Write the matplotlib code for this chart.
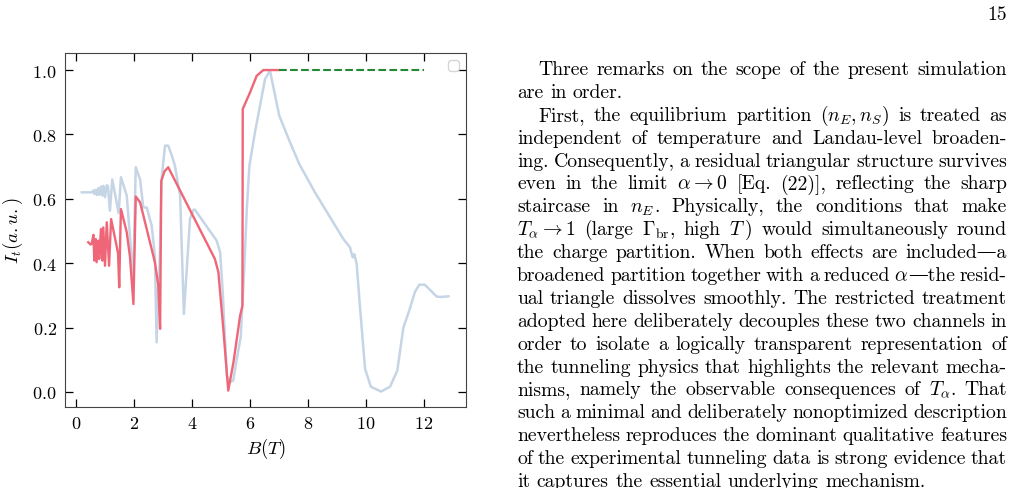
import re
import matplotlib.pyplot as plt

plt.rcParams['font.family'] = ['cmr10', 'DejaVu Serif']
plt.rcParams['mathtext.fontset'] = 'cm'
plt.rcParams['axes.formatter.use_mathtext'] = True
plt.rcParams['axes.unicode_minus'] = False

# measured tunneling current (light blue)
blue_b = [0.20, 0.55, 0.60, 0.63, 0.68, 0.72, 0.77, 0.80, 0.86, 0.91, 0.94, 1.00, 1.06, 1.10,
          1.17, 1.25, 1.40, 1.47, 1.55, 1.75, 1.92, 1.97, 2.06, 2.21, 2.32, 2.44, 2.61, 2.72,
          2.78, 2.84, 2.87, 2.95, 3.07, 3.18, 3.30, 3.41, 3.59, 3.72, 3.82, 3.93, 4.05, 4.10,
          4.85, 4.97, 5.06, 5.20, 5.31, 5.42, 5.54, 5.68, 5.80, 5.89, 5.98, 6.17, 6.52, 6.69,
          7.01, 7.36, 7.70, 8.24, 9.22, 9.45, 9.54, 9.60, 9.68, 9.79, 9.97, 10.17, 10.52, 10.83,
          11.08, 11.29, 11.49, 11.69, 11.84, 12.03, 12.44, 12.60, 12.84]
blue_i = [0.620, 0.620, 0.626, 0.615, 0.628, 0.612, 0.633, 0.612, 0.638, 0.610, 0.640, 0.605, 0.642, 0.640,
          0.563, 0.660, 0.589, 0.555, 0.667, 0.610, 0.413, 0.340, 0.698, 0.660, 0.573, 0.573, 0.516, 0.423,
          0.154, 0.346, 0.350, 0.661, 0.765, 0.765, 0.735, 0.703, 0.610, 0.242, 0.382, 0.537, 0.566, 0.566,
          0.470, 0.434, 0.310, 0.050, 0.030, 0.035, 0.100, 0.170, 0.380, 0.568, 0.703, 0.806, 0.972, 0.998,
          0.858, 0.780, 0.708, 0.620, 0.475, 0.449, 0.418, 0.428, 0.397, 0.268, 0.071, 0.016, 0.001, 0.016,
          0.066, 0.200, 0.252, 0.311, 0.333, 0.333, 0.296, 0.295, 0.297]

# simulation (red)
red_b = [0.42, 0.50, 0.54, 0.60, 0.63, 0.68, 0.71, 0.77, 0.80, 0.86, 0.91, 0.94, 1.00, 1.06,
         1.14, 1.21, 1.34, 1.45, 1.49, 1.53, 1.55, 1.75, 1.86, 1.98, 2.06, 2.21, 2.72, 2.84,
         2.90, 2.94, 3.05, 3.18, 4.79, 4.91, 5.08, 5.25, 5.43, 5.66, 5.74, 5.75, 6.00, 6.23,
         6.46, 6.98]
red_i = [0.465, 0.458, 0.460, 0.488, 0.408, 0.475, 0.403, 0.470, 0.413, 0.506, 0.408, 0.511, 0.392, 0.527,
         0.392, 0.537, 0.480, 0.430, 0.325, 0.500, 0.568, 0.496, 0.420, 0.273, 0.607, 0.589, 0.403, 0.330,
         0.196, 0.655, 0.685, 0.698, 0.413, 0.372, 0.196, 0.004, 0.092, 0.237, 0.268, 0.879, 0.930, 0.982,
         1.000, 1.000]

# saturation level (green dashed)
green_b = [7.0, 12.0]
green_i = [1.0, 1.0]

W, H = 1016, 489
fig = plt.figure(figsize=(W / 100, H / 100), dpi=100)
ax = fig.add_axes([65 / W, 1 - 408 / H, (466 - 65) / W, (408 - 54) / H])

ax.plot(blue_b, blue_i, color='#c5d5e6', lw=1.8)
ax.plot(red_b, red_i, color='#ee6677', lw=1.7)
ax.plot(green_b, green_i, color='#228833', lw=1.5, ls='--')

ax.set_xlim(-0.38, 13.45)
ax.set_ylim(-0.047, 1.053)
ax.set_xticks(range(0, 13, 2))
ax.set_yticks([0.0, 0.2, 0.4, 0.6, 0.8, 1.0])
ax.tick_params(direction='in', top=True, right=True, length=6, width=0.9,
               labelsize=13, pad=6)
for s in ax.spines.values():
    s.set_color('#444444')
ax.set_xlabel('$B(T)$', fontsize=13.5, labelpad=3)
ax.set_ylabel('$I_t(a.u.)$', fontsize=13.5, labelpad=5)
ax.legend(handles=[], loc='upper right')

# page text on the right, justified
fs = 14.2
left, right = 517, 1007
indent = 21.5
top_base, step = 75, 22.89

lines = [
    ("Three remarks on the scope of the present simulation", True, True),
    ("are in order.", False, False),
    ("First, the equilibrium partition $(n_E, n_S)$ is treated as", True, True),
    ("independent of temperature and Landau-level broaden-", False, True),
    ("ing. Consequently, a residual triangular structure survives", False, True),
    (r"even in the limit $\alpha \to 0$ [Eq. (22)], reflecting the sharp", False, True),
    ("staircase in $n_E$. Physically, the conditions that make", False, True),
    (r"$T_\alpha \to 1$ (large $\Gamma_\mathrm{br}$, high $T$) would simultaneously round", False, True),
    ("the charge partition. When both effects are included\u2014a", False, True),
    (r"broadened partition together with a reduced $\alpha$" + "\u2014the resid-", False, True),
    ("ual triangle dissolves smoothly. The restricted treatment", False, True),
    ("adopted here deliberately decouples these two channels in", False, True),
    ("order to isolate a logically transparent representation of", False, True),
    ("the tunneling physics that highlights the relevant mecha-", False, True),
    (r"nisms, namely the observable consequences of $T_\alpha$. That", False, True),
    ("such a minimal and deliberately nonoptimized description", False, True),
    ("nevertheless reproduces the dominant qualitative features", False, True),
    ("of the experimental tunneling data is strong evidence that", False, True),
    ("it captures the essential underlying mechanism.", False, False),
]

renderer = fig.canvas.get_renderer()


def width(s):
    t = fig.text(0, 0, s, fontsize=fs)
    w = t.get_window_extent(renderer).width
    t.remove()
    return w


space = width('a a') - width('aa')

for k, (line, ind, just) in enumerate(lines):
    toks = re.findall(r'(?:\$[^$]*\$|\S)+', line)
    # each word may mix math and plain parts, drawn glued together
    parts = [re.findall(r'\$[^$]*\$|[^$]+', t) for t in toks]
    pws = [[width(p) for p in ps] for ps in parts]
    ws = [sum(p) for p in pws]
    x0 = left + (indent if ind else 0)
    if just and len(toks) > 1:
        gap = (right - x0 - sum(ws)) / (len(toks) - 1)
    else:
        gap = space
    y = top_base + k * step
    x = x0
    for ps, pw in zip(parts, pws):
        for p, w in zip(ps, pw):
            fig.text(x / W, 1 - y / H, p, fontsize=fs, va='baseline', ha='left')
            x += w
        x += gap

fig.text(right / W, 1 - 19.5 / H, '15', fontsize=fs, va='baseline', ha='right')

fig.savefig('out.png', dpi=100)
